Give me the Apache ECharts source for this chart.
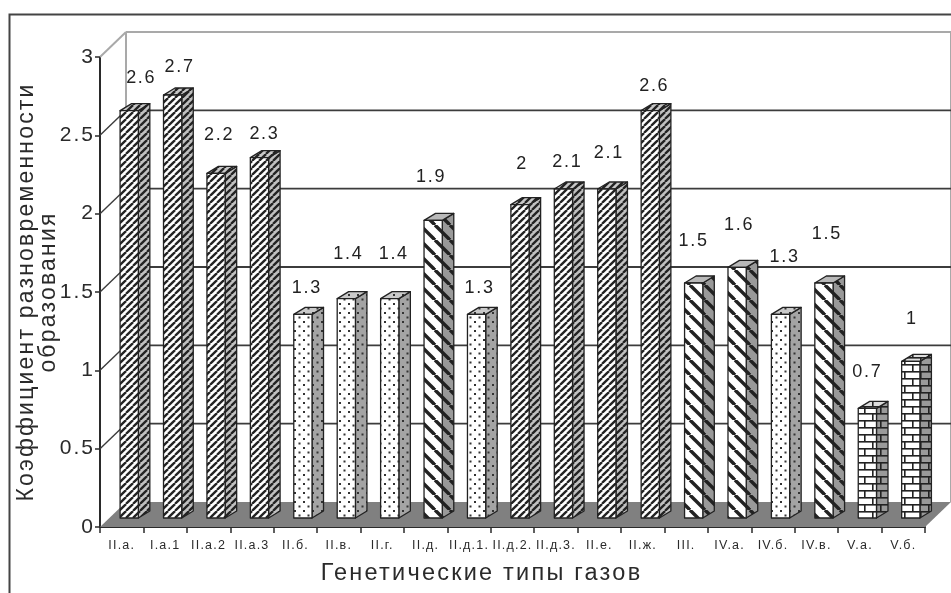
<!DOCTYPE html>
<html><head><meta charset="utf-8">
<style>html,body{margin:0;padding:0;background:#fff}#c{width:951px;height:593px;filter:blur(0.45px)}</style>
<script src="https://cdn.jsdelivr.net/npm/echarts@6/dist/echarts.min.js"></script>
</head><body><div id="c"></div>
<script>
const categories = ['II.а.','I.а.1','II.а.2','II.а.3','II.б.','II.в.','II.г.','II.д.','II.д.1.','II.д.2.','II.д.3.','II.е.','II.ж.','III.','IV.а.','IV.б.','IV.в.','V.а.','V.б.'];
const values = [2.6,2.7,2.2,2.3,1.3,1.4,1.4,1.9,1.3,2,2.1,2.1,2.6,1.5,1.6,1.3,1.5,0.7,1];
const hatchKinds = ['fine','fine','fine','fine','dots','dots','dots','wide','dots','fine','fine','fine','fine','wide','wide','dots','wide','brick','brick'];
const yTicks = [0.5,1,1.5,2,2.5];
// the reference's value labels float at irregular distances above the bars
const labelDx = [12,7,3,5,4,2,4,-2,3,2,4,2,4,0,2,4,3,0,1];
const labelDy = [-33,-28,-38,-24,-26,-45,-45,-43,-26,-41,-27,-36,-25,-42,-42,-57,-49,-36,-42];

// tracked-out lettering, as in the scanned reference
const nativeFill = CanvasRenderingContext2D.prototype.fillText;
CanvasRenderingContext2D.prototype.fillText = function (t, x, y, m) {
  const s = parseFloat((/([\d.]+)px/.exec(this.font) || [0, 12])[1]);
  this.letterSpacing = (s * 0.095).toFixed(2) + 'px';
  return m === undefined ? nativeFill.call(this, t, x, y) : nativeFill.call(this, t, x, y, m);
};

function tile(w, h, bg, draw) {
  const c = document.createElement('canvas'); c.width = w; c.height = h;
  const g = c.getContext('2d'); g.fillStyle = bg; g.fillRect(0, 0, w, h);
  draw(g); return { image: c, repeat: 'repeat' };
}
function diag(p, lw, ink, dir) {
  return g => { g.strokeStyle = ink; g.lineWidth = lw;
    for (let k = -1; k <= 2; k++) { g.beginPath();
      if (dir > 0) { g.moveTo(k * p - p, p); g.lineTo(k * p, 0); }
      else { g.moveTo(k * p - p, 0); g.lineTo(k * p, p); }
      g.stroke(); } };
}
function dots(ink) {
  return g => { g.fillStyle = ink; g.fillRect(1.5, 1.5, 2, 2); g.fillRect(6, 6, 2, 2); };
}
function bricks(ink) {
  return g => { g.fillStyle = ink; g.fillRect(0, 0, 16, 1.6); g.fillRect(0, 7, 16, 1.6);
    g.fillRect(0, 0, 1.6, 7); g.fillRect(8, 7, 1.6, 7); };
}
const ink = '#222';
const fills = {
  fine:  { front: tile(7, 7, '#fff', diag(7, 2.3, ink, 1)), side: tile(7, 7, '#c0c0c0', diag(7, 2.3, ink, 1)), top: tile(7, 7, '#c8c8c8', diag(7, 2.3, ink, 1)) },
  wide:  { front: tile(15, 15, '#fff', diag(15, 3.4, ink, -1)), side: tile(15, 15, '#999', diag(15, 3.4, ink, -1)), top: '#b9b9b9' },
  dots:  { front: tile(9, 9, '#fff', dots('#333')), side: tile(9, 9, '#a4a4a4', dots('#333')), top: tile(9, 9, '#c9c9c9', dots('#333')) },
  brick: { front: tile(16, 14, '#fff', bricks(ink)), side: tile(16, 14, '#9a9a9a', bricks(ink)), top: tile(16, 14, '#ddd', bricks(ink)) }
};

const depth = [26, -25];      // box depth of the plot
const barShift = [7.5, -9];   // bars stand this far inside the floor
const barDepth = [11.5, -7];  // depth of each bar
const wallDark = '#3c3c3c', wallGrey = '#a9a9a9', floorGrey = '#808080';

function renderBox(params, api) {
  const cs = params.coordSys;
  const o = api.coord([0, 0]), t = api.coord([0, 3]);
  const left = cs.x, right = cs.x + cs.width;
  const kids = [
    { type: 'polygon', shape: { points: [[left, o[1]], [left + depth[0], o[1] + depth[1]], [right + depth[0], o[1] + depth[1]], [right, o[1]]] }, style: { fill: floorGrey } },
    { type: 'line', shape: { x1: left, y1: t[1], x2: left + depth[0], y2: t[1] + depth[1] }, style: { stroke: wallGrey, lineWidth: 2 } },
    { type: 'line', shape: { x1: left + depth[0], y1: t[1] + depth[1], x2: right + depth[0], y2: t[1] + depth[1] }, style: { stroke: wallGrey, lineWidth: 2 } },
    { type: 'line', shape: { x1: left + depth[0], y1: t[1] + depth[1], x2: left + depth[0], y2: o[1] + depth[1] }, style: { stroke: wallGrey, lineWidth: 2 } },
    { type: 'line', shape: { x1: right + depth[0], y1: t[1] + depth[1], x2: right + depth[0], y2: o[1] + depth[1] }, style: { stroke: wallGrey, lineWidth: 2 } }
  ];
  return { type: 'group', children: kids };
}
function renderGrid(params, api) {
  const p = api.coord([0, api.value(0)]), cs = params.coordSys;
  const x0 = cs.x, x1 = cs.x + depth[0], y1 = p[1] + depth[1];
  return { type: 'group', children: [
    { type: 'line', shape: { x1: x0, y1: p[1], x2: x1, y2: y1 }, style: { stroke: wallDark, lineWidth: 1.4 } },
    { type: 'line', shape: { x1: x1, y1: y1, x2: cs.x + cs.width + depth[0], y2: y1 }, style: { stroke: wallDark, lineWidth: 1.8 } }
  ] };
}
function renderBar(params, api) {
  const i = api.value(0), v = api.value(1);
  const cx = api.coord([i, 0])[0] + barShift[0];
  const w = api.size([1, 0])[0] * 0.42;
  const yBase = api.coord([i, 0])[1] + barShift[1];
  const yTop = api.coord([i, v])[1] + barShift[1];
  const l = cx - w / 2, r = cx + w / 2, dx = barDepth[0], dy = barDepth[1];
  const f = fills[hatchKinds[i]];
  const stroke = { stroke: ink, lineWidth: 1.3, lineJoin: 'round' };
  return { type: 'group', children: [
    { type: 'polygon', shape: { points: [[r, yTop], [r + dx, yTop + dy], [r + dx, yBase + dy], [r, yBase]] }, style: Object.assign({ fill: f.side }, stroke) },
    { type: 'polygon', shape: { points: [[l, yTop], [l + dx, yTop + dy], [r + dx, yTop + dy], [r, yTop]] }, style: Object.assign({ fill: f.top }, stroke) },
    { type: 'polygon', shape: { points: [[l, yTop], [r, yTop], [r, yBase], [l, yBase]] }, style: Object.assign({ fill: f.front }, stroke) },
    { type: 'text', style: { text: String(v), x: cx + labelDx[i], y: yTop + labelDy[i], align: 'center', verticalAlign: 'middle', fontFamily: 'Liberation Sans', fontSize: 18, fill: '#222' } }
  ] };
}

const chart = echarts.init(document.getElementById('c'), null, { width: 951, height: 593, renderer: 'canvas', devicePixelRatio: 1 });
const axisText = { fontFamily: 'Liberation Sans', color: '#2a2a2a' };
chart.setOption({
  animation: false,
  backgroundColor: '#fff',
  grid: { left: 100, top: 57, width: 825, height: 470, outerBoundsMode: 'none', containLabel: false },
  graphic: [{ type: 'polyline', silent: true, z: 0, shape: { points: [[9.5, 593], [9.5, 14.5], [951, 14.5]] }, style: { fill: 'none', stroke: '#444', lineWidth: 2 } }],
  xAxis: {
    type: 'category', data: categories, boundaryGap: true,
    name: 'Генетические типы газов', nameLocation: 'middle', nameGap: 35,
    nameTextStyle: Object.assign({ fontSize: 23.5, padding: [0, 62, 0, 0] }, axisText),
    axisLine: { lineStyle: { color: '#2a2a2a', width: 2 } },
    axisTick: { show: true, length: 6, lineStyle: { color: '#2a2a2a', width: 1.5 } },
    axisLabel: Object.assign({ fontSize: 12.5, interval: 0, margin: 12, hideOverlap: false }, axisText),
    splitLine: { show: false }
  },
  yAxis: {
    type: 'value', min: 0, max: 3, interval: 0.5,
    name: 'Коэффициент разновременности\nобразования', nameLocation: 'middle', nameRotate: 90, nameGap: 40, nameMoveOverlap: false,
    nameTextStyle: Object.assign({ fontSize: 23, lineHeight: 22 }, axisText),
    axisLine: { show: true, lineStyle: { color: '#2a2a2a', width: 2 } },
    axisTick: { show: true, length: 5, lineStyle: { color: '#2a2a2a', width: 1.5 } },
    axisLabel: Object.assign({ fontSize: 21, margin: 5, hideOverlap: false }, axisText),
    splitLine: { show: false }
  },
  series: [
    { type: 'custom', coordinateSystem: 'cartesian2d', silent: true, clip: false, z: 1, data: [[0]], renderItem: renderBox },
    { type: 'custom', coordinateSystem: 'cartesian2d', silent: true, clip: false, z: 2, data: yTicks.map(v => [v]), encode: { y: 0 }, renderItem: renderGrid },
    { type: 'custom', coordinateSystem: 'cartesian2d', silent: true, clip: false, z: 3, data: values.map((v, i) => [i, v]), encode: { x: 0, y: 1 }, renderItem: renderBar }
  ]
});
</script></body></html>
